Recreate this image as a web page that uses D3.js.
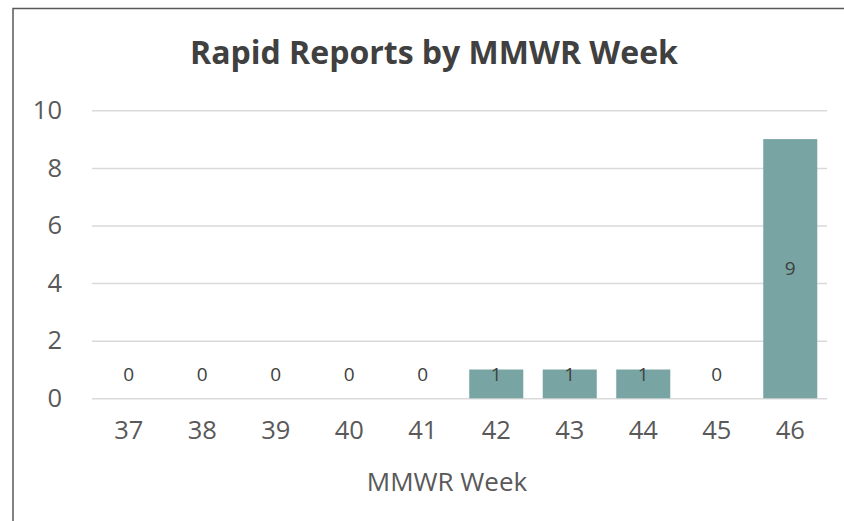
<!DOCTYPE html>
<html>
<head>
<meta charset="utf-8">
<script src="https://cdn.jsdelivr.net/npm/d3@7"></script>
<style>
	body { margin: 0; background: #fff; }
	svg { display: block; font-family: "Open Sans", "Noto Sans", sans-serif; }
</style>
</head>
<body>
<div id="chart01"></div>
<script>
// chart data
var weeks = ["37", "38", "39", "40", "41", "42", "43", "44", "45", "46"];
var reports = [0, 0, 0, 0, 0, 1, 1, 1, 0, 9];
var yTicks = [0, 2, 4, 6, 8, 10];

var width = 844;
var height = 521;
var margin = { top: 110, right: 17, bottom: 123, left: 92 };

var svg = d3.select("#chart01").append("svg")
	.attr("width", width)
	.attr("height", height);

// chart frame (runs off the right and bottom edges)
svg.append("rect")
	.attr("x", 13)
	.attr("y", 8.5)
	.attr("width", 860)
	.attr("height", 540)
	.attr("fill", "none")
	.attr("stroke", "#595959")
	.attr("stroke-width", 1.5);

var x = d3.scaleBand()
	.domain(weeks)
	.range([margin.left, width - margin.right])
	.paddingInner(0.265)
	.paddingOuter(0.1325);

var y = d3.scaleLinear()
	.domain([0, 10])
	.range([height - margin.bottom + 0.3, margin.top + 0.3]);

// gridlines + y labels
var yAxis = svg.append("g")
	.attr("transform", `translate(${margin.left}, 0)`)
	.call(d3.axisLeft(y).tickValues(yTicks).tickSize(-(width - margin.left - margin.right)).tickPadding(30))
	.attr("font-family", null);
yAxis.select(".domain").remove();
yAxis.selectAll("line").attr("stroke", "#d9d9d9").attr("stroke-width", 1.5);
yAxis.selectAll("text")
	.attr("fill", "#595959")
	.style("font-size", "25.5px");

// bars
svg.selectAll(".bar")
	.data(reports)
	.join("rect")
	.attr("class", "bar")
	.attr("x", (d, i) => x(weeks[i]))
	.attr("y", (d) => y(d))
	.attr("width", x.bandwidth())
	.attr("height", (d) => y(0) - y(d))
	.attr("fill", "#78a5a3");

// value labels
svg.selectAll(".bar-label")
	.data(reports)
	.join("text")
	.attr("class", "bar-label")
	.attr("x", (d, i) => x(weeks[i]) + x.bandwidth() / 2)
	.attr("y", (d) => Math.min((y(d) + y(0)) / 2, y(0) - 24))
	.attr("dy", "0.35em")
	.attr("text-anchor", "middle")
	.attr("fill", "#404040")
	.style("font-size", "19px")
	.text((d) => d);

// x axis labels
var xAxis = svg.append("g")
	.attr("transform", `translate(0, ${y(0)})`)
	.call(d3.axisBottom(x).tickSize(0).tickPadding(23))
	.attr("font-family", null);
xAxis.select(".domain").remove();
xAxis.selectAll("text")
	.attr("fill", "#595959")
	.style("font-size", "25.5px");

// title
svg.append("text")
	.attr("x", 434)
	.attr("y", 64)
	.attr("text-anchor", "middle")
	.attr("fill", "#404040")
	.attr("font-weight", "bold")
	.style("font-size", "32px")
	.text("Rapid Reports by MMWR Week");

// x-axis title
svg.append("text")
	.attr("x", 447)
	.attr("y", 491)
	.attr("text-anchor", "middle")
	.attr("fill", "#595959")
	.style("font-size", "26px")
	.text("MMWR Week");
</script>
</body>
</html>
